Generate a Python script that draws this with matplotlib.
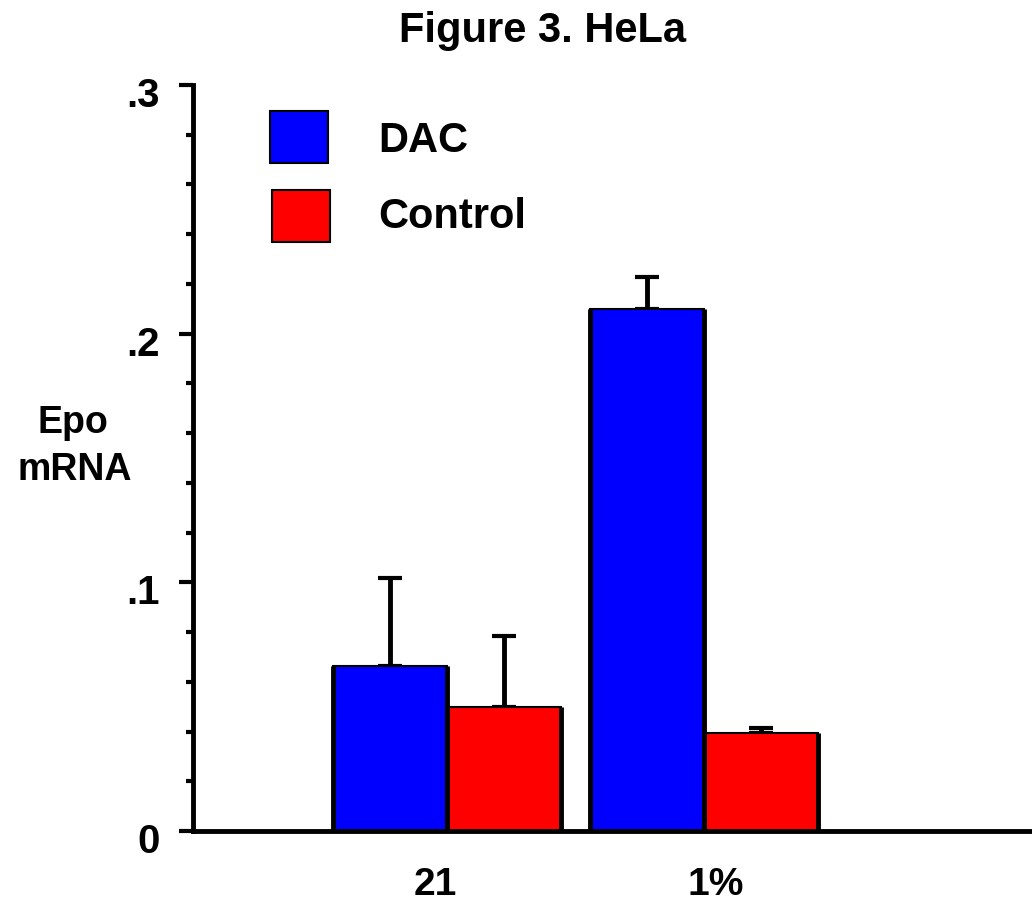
import matplotlib

matplotlib.use("Agg")

import matplotlib.pyplot as plt
from matplotlib.patches import Rectangle
from matplotlib.ticker import MultipleLocator, FixedLocator
from matplotlib.transforms import ScaledTranslation

plt.rcParams["font.family"] = ["Liberation Sans", "DejaVu Sans"]
plt.rcParams["font.weight"] = "bold"

# data
groups = ["21", "1%"]
series = ["DAC", "Control"]
dac_vals = [0.0663, 0.2098]
dac_err = [0.0355, 0.0131]
ctrl_vals = [0.0497, 0.0395]
ctrl_err = [0.0286, 0.0020]
colors = ["#0000ff", "#ff0000"]

W, H = 1032, 905
fig = plt.figure(figsize=(W / 100, H / 100), dpi=100)
ax = fig.add_axes([193 / W, (H - 831) / H, (W - 193) / W, (831 - 85) / H])

width = 0.444
x = list(range(len(groups)))
bars_dac = ax.bar([i - width / 2 for i in x], dac_vals, width, color=colors[0],
                  edgecolor="black", linewidth=1.5, zorder=2)
bars_ctrl = ax.bar([i + width / 2 for i in x], ctrl_vals, width, color=colors[1],
                   edgecolor="black", linewidth=1.5, zorder=2)

# thick black sides on each bar
for b in list(bars_dac) + list(bars_ctrl):
    x0, x1, h = b.get_x(), b.get_x() + b.get_width(), b.get_height()
    ax.vlines([x0, x1], 0, h, colors="black", linewidth=3.5, zorder=3)

# upper-only error bars
ax.errorbar([i - width / 2 for i in x], dac_vals, yerr=[[0] * len(x), dac_err],
            fmt="none", ecolor="black", elinewidth=3.5, capsize=8.5, capthick=3, zorder=1)
ax.errorbar([i + width / 2 for i in x], ctrl_vals, yerr=[[0] * len(x), ctrl_err],
            fmt="none", ecolor="black", elinewidth=3.5, capsize=8.5, capthick=3, zorder=1)

ax.set_xlim(-0.988, 2.276)
ax.set_ylim(0, 0.3)

for side in ["top", "right"]:
    ax.spines[side].set_visible(False)
for side in ["left", "bottom"]:
    ax.spines[side].set_linewidth(3.5)

ax.yaxis.set_major_locator(FixedLocator([0, 0.1, 0.2, 0.3]))
ax.set_yticklabels(["0", ".1", ".2", ".3"])
ax.yaxis.set_minor_locator(MultipleLocator(0.02))
ax.tick_params(axis="y", which="major", length=10, width=3, pad=14, labelsize=29)
ax.tick_params(axis="y", which="minor", length=5, width=3)
shift = ScaledTranslation(0, -0.07, fig.dpi_scale_trans)
for lab in ax.get_yticklabels():
    lab.set_transform(lab.get_transform() + shift)

# group labels sit a little off the group centres in the original
ax.set_xticks([-0.045, 1.047])
ax.set_xticklabels(groups)
ax.tick_params(axis="x", length=0, pad=26, labelsize=28)

fig.text(73 / W, 1 - 433 / H, "Epo", ha="center", va="baseline", fontsize=27,
         fontweight="bold")
fig.text(75 / W, 1 - 480 / H, "mRNA", ha="center", va="baseline", fontsize=27,
         fontweight="bold")

fig.text(543 / W, 1 - 42 / H, "Figure 3. HeLa", ha="center", va="baseline",
         fontsize=30, fontweight="bold")

# legend: coloured squares with labels
legend_rows = [(270, 111, 152), (272, 190, 228)]
for (px, py, base), c, name in zip(legend_rows, colors, series):
    fig.add_artist(Rectangle((px / W, 1 - (py + 52) / H), 58 / W, 52 / H,
                             transform=fig.transFigure, facecolor=c,
                             edgecolor="black", linewidth=1.5))
    fig.text(378 / W, 1 - base / H, name, ha="left", va="baseline",
             fontsize=30, fontweight="bold")

fig.savefig("out.png", dpi=100)
